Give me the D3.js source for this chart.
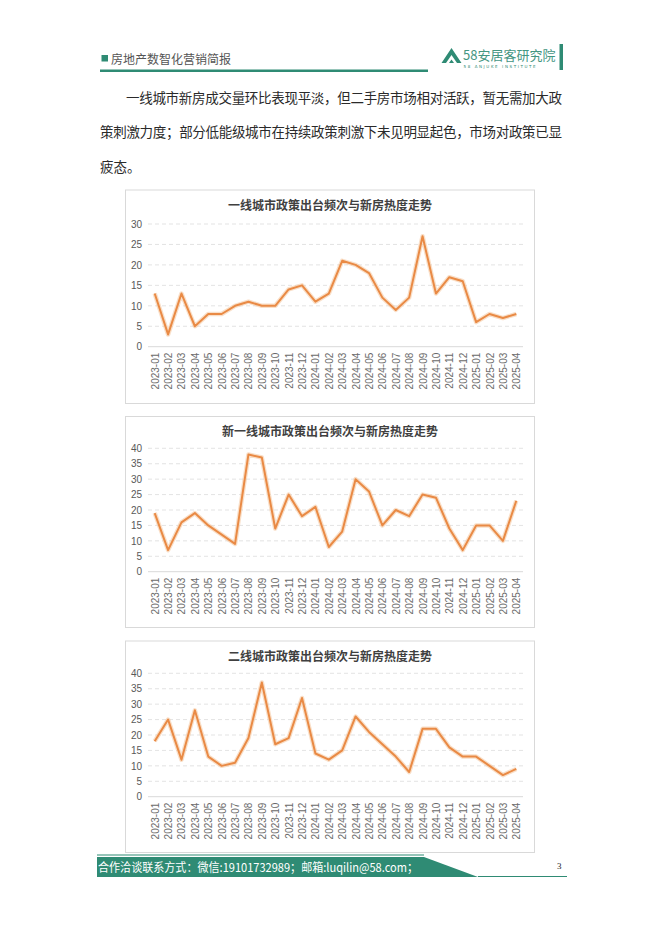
<!DOCTYPE html>
<html><head><meta charset="utf-8">
<script src="https://cdn.jsdelivr.net/npm/d3@7"></script>
<style>
html,body{margin:0;padding:0;background:#fff;}
svg{display:block;font-family:"Noto Sans CJK SC","Noto Sans",sans-serif;}
</style></head>
<body>
<svg id="page" width="662" height="936"></svg>
<script>
const months = ["2023-01","2023-02","2023-03","2023-04","2023-05","2023-06","2023-07","2023-08","2023-09","2023-10","2023-11","2023-12",
"2024-01","2024-02","2024-03","2024-04","2024-05","2024-06","2024-07","2024-08","2024-09","2024-10","2024-11","2024-12",
"2025-01","2025-02","2025-03","2025-04"];
const tier1 = [13,3,13,5,8,8,10,11,10,10,14,15,11,13,21,20,18,12,9,12,27,13,17,16,6,8,7,8];
const newTier1 = [19,7,16,19,15,12,9,38,37,14,25,18,21,8,13,30,26,15,20,18,25,24,14,7,15,15,10,23];
const tier2 = [18,25,12,28,13,10,11,19,37,17,19,32,14,12,15,26,21,17,13,8,22,22,16,13,13,10,7,9];
const titles = ["一线城市政策出台频次与新房热度走势","新一线城市政策出台频次与新房热度走势","二线城市政策出台频次与新房热度走势"];
const ticks1 = [0,5,10,15,20,25,30];
const ticks2 = [0,5,10,15,20,25,30,35,40];
const paragraph = ["一线城市新房成交量环比表现平淡，但二手房市场相对活跃，暂无需加大政",
"策刺激力度；部分低能级城市在持续政策刺激下未见明显起色，市场对政策已显",
"疲态。"];
const headerTitle = "房地产数智化营销简报";
const footerText = "合作洽谈联系方式：微信:19101732989；邮箱:luqilin@58.com；";

const green = "#2f8b74";
const svg = d3.select("#page");

// Header
svg.append("rect").attr("x",101.5).attr("y",55).attr("width",6.5).attr("height",6.5).attr("fill",green);
svg.append("text").attr("x",111).attr("y",63.5).attr("font-size",12).attr("fill","#555").text(headerTitle);
svg.append("rect").attr("x",100).attr("y",69.5).attr("width",328).attr("height",2.5).attr("fill",green);
// logo
svg.append("path").attr("d","M441.5,63 L451.5,48 L461.5,63 L457,63 L451.5,55 L446,63 Z").attr("fill",green);
svg.append("path").attr("d","M449,63 L451.5,59.5 L454,63 Z").attr("fill",green);
svg.append("text").attr("x",463).attr("y",60).attr("font-size",13).attr("fill",green).attr("opacity",0.9).text("58安居客研究院");
svg.append("text").attr("x",463.5).attr("y",67.5).attr("font-size",4).attr("letter-spacing",1.6).attr("fill",green).attr("font-family","DejaVu Sans").text("58 ANJUKE INSTITUTE");
svg.append("rect").attr("x",559.5).attr("y",44).attr("width",3.5).attr("height",26).attr("fill",green);

// Paragraph
svg.append("text").attr("x",126).attr("y",103).attr("font-size",13.5).attr("fill","#2a2a2a")
  .attr("textLength",436).attr("lengthAdjust","spacing").text(paragraph[0]);
svg.append("text").attr("x",100).attr("y",137).attr("font-size",13.5).attr("fill","#2a2a2a")
  .attr("textLength",462).attr("lengthAdjust","spacing").text(paragraph[1]);
svg.append("text").attr("x",100).attr("y",172).attr("font-size",13.5).attr("fill","#2a2a2a").text(paragraph[2]);

// Charts
const boxes = [
  {top:190, bottom:403.5, y0:346.7, yTop:224, max:30, ticks:ticks1, data:tier1, title:titles[0]},
  {top:416.5, bottom:627.5, y0:571.7, yTop:448.3, max:40, ticks:ticks2, data:newTier1, title:titles[1]},
  {top:641, bottom:852.5, y0:796.7, yTop:673.3, max:40, ticks:ticks2, data:tier2, title:titles[2]}
];
boxes.forEach(b => {
  const g = svg.append("g");
  g.append("rect").attr("x",125.5).attr("y",b.top).attr("width",409).attr("height",b.bottom-b.top)
    .attr("fill","#fff").attr("stroke","#d9d9d9").attr("stroke-width",1);
  g.append("text").attr("x",330).attr("y",b.top+19.5).attr("text-anchor","middle").attr("font-size",12)
    .attr("font-weight","bold").attr("fill","#404040").text(b.title);
  const x = d3.scalePoint().domain(months).range([148,523]).padding(0.5);
  const y = d3.scaleLinear().domain([0,b.max]).range([b.y0,b.yTop]);
  // gridlines
  g.selectAll(".grid").data(b.ticks.filter(t=>t>0)).enter().append("line")
    .attr("x1",148).attr("x2",523).attr("y1",d=>y(d)).attr("y2",d=>y(d))
    .attr("stroke","#dcdcdc").attr("stroke-width",0.8).attr("stroke-dasharray","4,3");
  g.append("line").attr("x1",148).attr("x2",523).attr("y1",y(0)).attr("y2",y(0))
    .attr("stroke","#d9d9d9").attr("stroke-width",1);
  // y axis labels
  const ya = g.append("g").attr("transform","translate(142,0)")
    .call(d3.axisLeft(y).tickValues(b.ticks).tickSize(0).tickPadding(0));
  ya.select(".domain").remove();
  ya.selectAll("text").attr("font-size",10).attr("fill","#595959").attr("font-family","Liberation Sans, Arial, sans-serif");
  // x axis labels
  const xa = g.append("g").attr("transform",`translate(0,${y(0)})`)
    .call(d3.axisBottom(x).tickSize(0).tickPadding(0));
  xa.select(".domain").remove();
  xa.selectAll("text").attr("font-size",10).attr("fill","#6a6a6a").attr("font-family","Liberation Sans, Arial, sans-serif")
    .attr("text-anchor","end").attr("transform","translate(0,6) rotate(-90)").attr("x",0).attr("y",0).attr("dy","0.35em");
  // line
  const line = d3.line().x((d,i)=>x(months[i])).y(d=>y(d));
  g.append("path").datum(b.data).attr("d",line).attr("fill","none")
    .attr("stroke","#f5c9a3").attr("stroke-width",4.5).attr("stroke-opacity",0.6).attr("stroke-linejoin","round");
  g.append("path").datum(b.data).attr("d",line).attr("fill","none")
    .attr("stroke","#e98a45").attr("stroke-width",2).attr("stroke-linejoin","round");
});

// Footer
svg.append("line").attr("x1",97).attr("x2",424).attr("y1",855).attr("y2",855).attr("stroke",green).attr("stroke-width",1.2);
svg.append("path").attr("d","M97,857 L424,857 L478,877 L97,877 Z").attr("fill",green);
svg.append("line").attr("x1",478).attr("x2",567).attr("y1",876.5).attr("y2",876.5).attr("stroke",green).attr("stroke-width",1);
svg.append("text").attr("x",98).attr("y",871.5).attr("font-size",12).attr("fill","#fff")
  .attr("textLength",320).attr("lengthAdjust","spacingAndGlyphs").text(footerText);
svg.append("text").attr("x",557).attr("y",869).attr("font-size",9).attr("fill","#222").attr("font-family","Liberation Serif, serif").text("3");
</script>
</body></html>
